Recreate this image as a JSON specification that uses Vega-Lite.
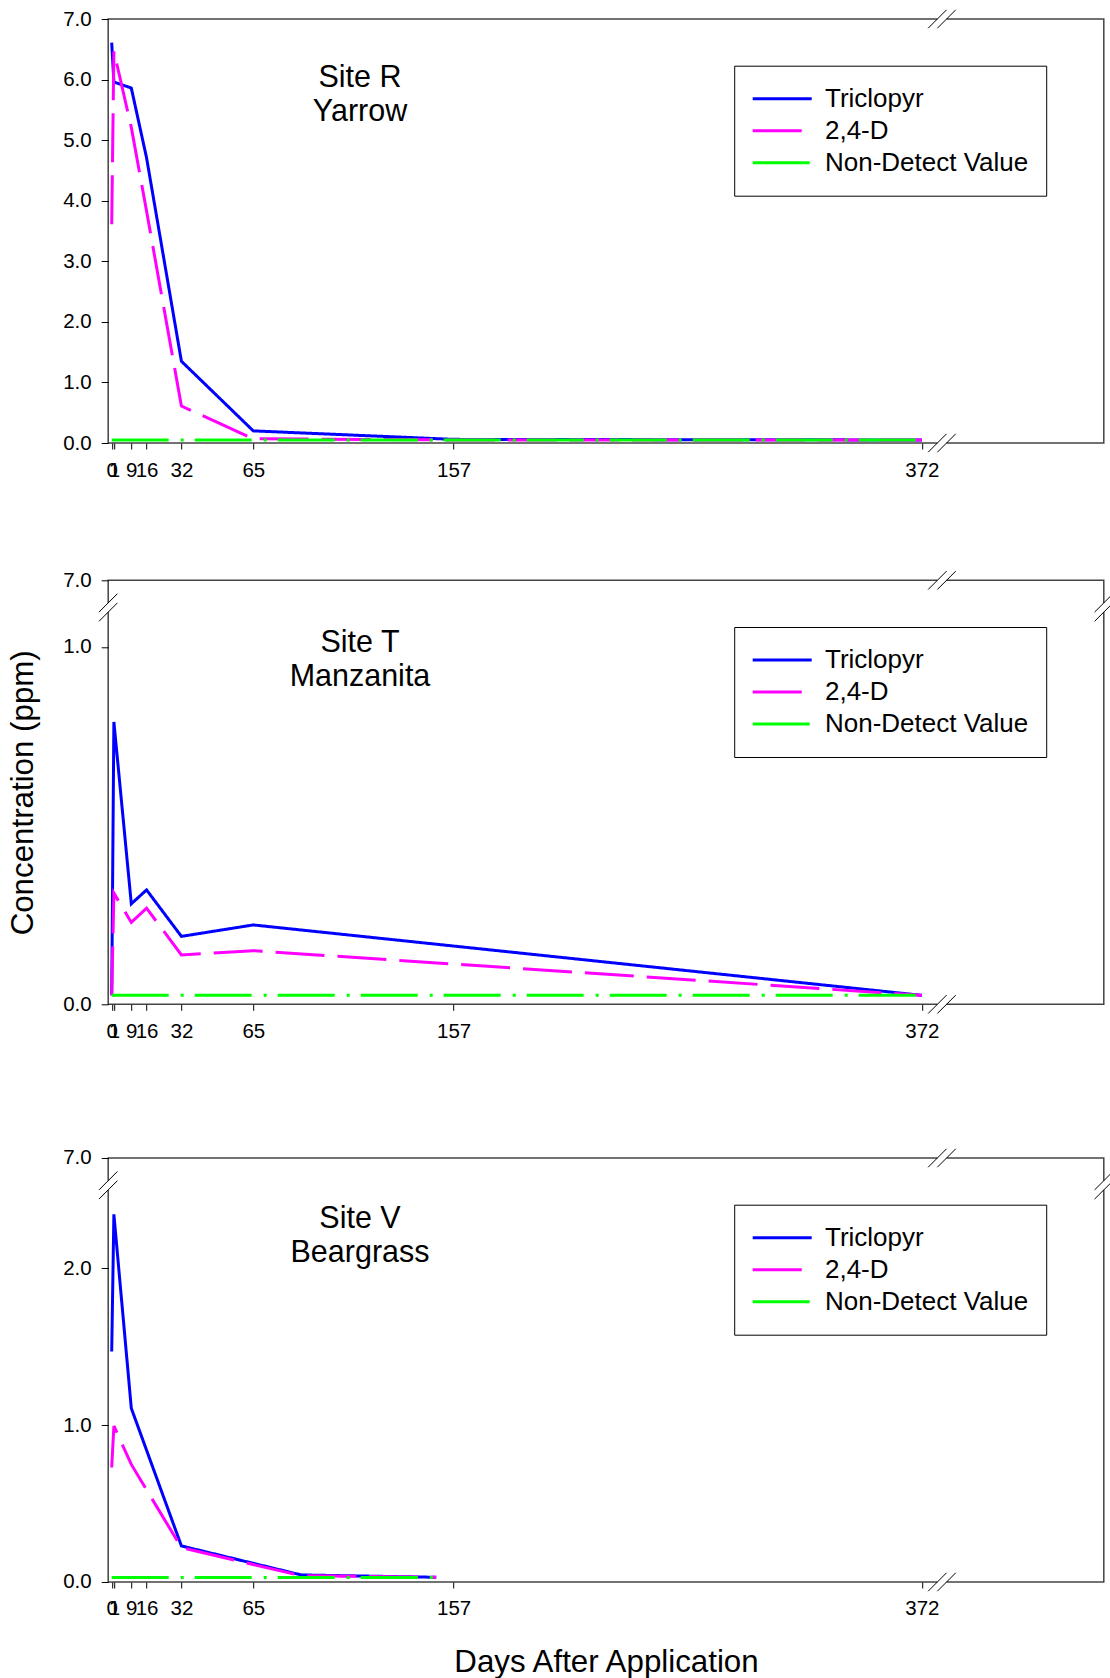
{
  "$schema": "https://vega.github.io/schema/vega-lite/v6.json",
  "padding": {"left": 6.2, "top": 7, "right": 0, "bottom": 0},
  "datasets": {
    "conc": [
      {"site": "R", "series": "Triclopyr", "day": 0, "conc": 6.61},
      {"site": "R", "series": "Triclopyr", "day": 1, "conc": 5.96},
      {"site": "R", "series": "Triclopyr", "day": 9, "conc": 5.86},
      {"site": "R", "series": "Triclopyr", "day": 16, "conc": 4.71},
      {"site": "R", "series": "Triclopyr", "day": 32, "conc": 1.35},
      {"site": "R", "series": "Triclopyr", "day": 65, "conc": 0.2},
      {"site": "R", "series": "Triclopyr", "day": 157, "conc": 0.06},
      {"site": "R", "series": "Triclopyr", "day": 372, "conc": 0.05},
      {"site": "R", "series": "2,4-D", "day": 0, "conc": 3.61},
      {"site": "R", "series": "2,4-D", "day": 1, "conc": 6.47},
      {"site": "R", "series": "2,4-D", "day": 9, "conc": 5.21},
      {"site": "R", "series": "2,4-D", "day": 16, "conc": 3.83},
      {"site": "R", "series": "2,4-D", "day": 32, "conc": 0.61},
      {"site": "R", "series": "2,4-D", "day": 65, "conc": 0.07},
      {"site": "R", "series": "2,4-D", "day": 157, "conc": 0.05},
      {"site": "R", "series": "2,4-D", "day": 372, "conc": 0.05},
      {"site": "R", "series": "Non-Detect Value", "day": 0, "conc": 0.05},
      {"site": "R", "series": "Non-Detect Value", "day": 372, "conc": 0.05},
      {"site": "T", "series": "Triclopyr", "day": 0, "conc": 0.025},
      {"site": "T", "series": "Triclopyr", "day": 1, "conc": 0.79},
      {"site": "T", "series": "Triclopyr", "day": 9, "conc": 0.281},
      {"site": "T", "series": "Triclopyr", "day": 16, "conc": 0.32},
      {"site": "T", "series": "Triclopyr", "day": 32, "conc": 0.19},
      {"site": "T", "series": "Triclopyr", "day": 65, "conc": 0.222},
      {"site": "T", "series": "Triclopyr", "day": 372, "conc": 0.025},
      {"site": "T", "series": "2,4-D", "day": 0, "conc": 0.025},
      {"site": "T", "series": "2,4-D", "day": 1, "conc": 0.311},
      {"site": "T", "series": "2,4-D", "day": 9, "conc": 0.229},
      {"site": "T", "series": "2,4-D", "day": 16, "conc": 0.269},
      {"site": "T", "series": "2,4-D", "day": 32, "conc": 0.138},
      {"site": "T", "series": "2,4-D", "day": 65, "conc": 0.15},
      {"site": "T", "series": "2,4-D", "day": 372, "conc": 0.025},
      {"site": "T", "series": "Non-Detect Value", "day": 0, "conc": 0.025},
      {"site": "T", "series": "Non-Detect Value", "day": 372, "conc": 0.025},
      {"site": "V", "series": "Triclopyr", "day": 0, "conc": 1.47},
      {"site": "V", "series": "Triclopyr", "day": 1, "conc": 2.345},
      {"site": "V", "series": "Triclopyr", "day": 9, "conc": 1.108},
      {"site": "V", "series": "Triclopyr", "day": 32, "conc": 0.23},
      {"site": "V", "series": "Triclopyr", "day": 87, "conc": 0.045},
      {"site": "V", "series": "Triclopyr", "day": 149, "conc": 0.03},
      {"site": "V", "series": "2,4-D", "day": 0, "conc": 0.73},
      {"site": "V", "series": "2,4-D", "day": 1, "conc": 0.995},
      {"site": "V", "series": "2,4-D", "day": 9, "conc": 0.75},
      {"site": "V", "series": "2,4-D", "day": 32, "conc": 0.219},
      {"site": "V", "series": "2,4-D", "day": 87, "conc": 0.04},
      {"site": "V", "series": "2,4-D", "day": 149, "conc": 0.03},
      {"site": "V", "series": "Non-Detect Value", "day": 0, "conc": 0.028},
      {"site": "V", "series": "Non-Detect Value", "day": 149, "conc": 0.028}
    ]
  },
  "vconcat": [
    {
      "spacing": 86.3,
      "resolve": {"scale": {"color": "independent", "strokeDash": "independent"}, "legend": {"color": "independent", "strokeDash": "independent"}},
      "vconcat": [
        {
          "width": 995.6, "height": 424,
          "layer": [
            {
              "data": {"name": "conc"},
              "encoding": {
                "x": {"field": "day", "type": "quantitative", "scale": {"domain": [-1.61, 455.5], "nice": false, "zero": false},
                      "axis": {"values": [0, 1, 9, 16, 32, 65, 157, 372], "format": "d", "title": null, "labelOverlap": false, "labelFlush": false, "tickSize": 6, "labelPadding": 11}},
                "y": {"field": "conc", "type": "quantitative", "scale": {"domain": [0, 7], "nice": false, "zero": false},
                      "axis": {"values": [0, 1, 2, 3, 4, 5, 6, 7], "format": ".1f", "title": null, "tickSize": 7, "labelPadding": 10}},
                "color": {"field": "series", "type": "nominal", "scale": {"domain": ["Triclopyr", "2,4-D", "Non-Detect Value"], "range": ["#0000FF", "#FF00FF", "#00FF00"]},
                          "legend": {"orient": "none", "legendX": 626, "legendY": 46.7, "title": null, "symbolType": "stroke", "symbolSize": 3481, "symbolStrokeWidth": 3, "clipHeight": 32, "labelFontSize": 26, "labelFont": "Liberation Sans", "labelColor": "#000", "labelOffset": 11.8, "padding": 17, "strokeColor": "#000", "fillColor": "#fff", "rowPadding": 0, "labelLimit": 400}},
                "strokeDash": {"field": "series", "type": "nominal", "scale": {"domain": ["Triclopyr", "2,4-D", "Non-Detect Value"], "range": [[1, 0], [49, 13], [57, 12, 3, 11]]},
                          "legend": {"orient": "none", "legendX": 626, "legendY": 46.7, "title": null, "symbolType": "stroke", "symbolSize": 3481, "symbolStrokeWidth": 3, "clipHeight": 32, "labelFontSize": 26, "labelFont": "Liberation Sans", "labelColor": "#000", "labelOffset": 11.8, "padding": 17, "strokeColor": "#000", "fillColor": "#fff", "rowPadding": 0, "labelLimit": 400}}
              },
              "layer": [
                {"transform": [{"filter": "datum.site === 'R' && datum.series === 'Triclopyr'"}], "mark": {"type": "line", "strokeWidth": 3}},
                {"transform": [{"filter": "datum.site === 'R' && datum.series === '2,4-D'"}], "mark": {"type": "line", "strokeWidth": 3}},
                {"transform": [{"filter": "datum.site === 'R' && datum.series === 'Non-Detect Value'"}], "mark": {"type": "line", "strokeWidth": 3}}
              ]
            },
            {"data": {"values": [{}]}, "mark": {"type": "text", "fontSize": 30.5, "lineHeight": 34, "align": "center", "baseline": "alphabetic", "font": "Liberation Sans", "color": "#000"},
             "encoding": {"x": {"datum": 114}, "y": {"datum": 5.875}, "text": {"value": ["Site R", "Yarrow"]}}},
            {"data": {"values": [{}]}, "mark": {"type": "point", "shape": "M-0.333,0L0.333,0", "size": 761.8, "filled": false, "color": "#fff", "strokeWidth": 3, "opacity": 1},
             "encoding": {"x": {"datum": 381.2}, "y": {"datum": 0}}},
            {"data": {"values": [{}]}, "mark": {"type": "point", "shape": "M-1,0.667L0.333,-0.667M-0.333,0.667L1,-0.667", "size": 761.8, "filled": false, "color": "#000", "strokeWidth": 1, "opacity": 1},
             "encoding": {"x": {"datum": 381.2}, "y": {"datum": 0}}},
            {"data": {"values": [{}]}, "mark": {"type": "point", "shape": "M-0.333,0L0.333,0", "size": 761.8, "filled": false, "color": "#fff", "strokeWidth": 3, "opacity": 1},
             "encoding": {"x": {"datum": 381.2}, "y": {"datum": 7}}},
            {"data": {"values": [{}]}, "mark": {"type": "point", "shape": "M-1,0.667L0.333,-0.667M-0.333,0.667L1,-0.667", "size": 761.8, "filled": false, "color": "#000", "strokeWidth": 1, "opacity": 1},
             "encoding": {"x": {"datum": 381.2}, "y": {"datum": 7}}}
          ]
        },
        {
          "width": 995.6, "height": 424,
          "layer": [
            {
              "data": {"name": "conc"},
              "encoding": {
                "x": {"field": "day", "type": "quantitative", "scale": {"domain": [-1.61, 455.5], "nice": false, "zero": false},
                      "axis": {"values": [0, 1, 9, 16, 32, 65, 157, 372], "format": "d", "title": null, "labelOverlap": false, "labelFlush": false, "tickSize": 6, "labelPadding": 11}},
                "y": {"field": "conc", "type": "quantitative", "scale": {"domain": [0, 1.11, 7], "range": [424, 27.2, 0], "nice": false, "zero": false},
                      "axis": {"values": [0, 1, 7], "format": ".1f", "title": "Concentration (ppm)", "titlePadding": 23.5, "tickSize": 7, "labelPadding": 10}},
                "color": {"field": "series", "type": "nominal", "scale": {"domain": ["Triclopyr", "2,4-D", "Non-Detect Value"], "range": ["#0000FF", "#FF00FF", "#00FF00"]},
                          "legend": {"orient": "none", "legendX": 626, "legendY": 46.7, "title": null, "symbolType": "stroke", "symbolSize": 3481, "symbolStrokeWidth": 3, "clipHeight": 32, "labelFontSize": 26, "labelFont": "Liberation Sans", "labelColor": "#000", "labelOffset": 11.8, "padding": 17, "strokeColor": "#000", "fillColor": "#fff", "rowPadding": 0, "labelLimit": 400}},
                "strokeDash": {"field": "series", "type": "nominal", "scale": {"domain": ["Triclopyr", "2,4-D", "Non-Detect Value"], "range": [[1, 0], [49, 13], [57, 12, 3, 11]]},
                          "legend": {"orient": "none", "legendX": 626, "legendY": 46.7, "title": null, "symbolType": "stroke", "symbolSize": 3481, "symbolStrokeWidth": 3, "clipHeight": 32, "labelFontSize": 26, "labelFont": "Liberation Sans", "labelColor": "#000", "labelOffset": 11.8, "padding": 17, "strokeColor": "#000", "fillColor": "#fff", "rowPadding": 0, "labelLimit": 400}}
              },
              "layer": [
                {"transform": [{"filter": "datum.site === 'T' && datum.series === 'Triclopyr'"}], "mark": {"type": "line", "strokeWidth": 3}},
                {"transform": [{"filter": "datum.site === 'T' && datum.series === '2,4-D'"}], "mark": {"type": "line", "strokeWidth": 3}},
                {"transform": [{"filter": "datum.site === 'T' && datum.series === 'Non-Detect Value'"}], "mark": {"type": "line", "strokeWidth": 3}}
              ]
            },
            {"data": {"values": [{}]}, "mark": {"type": "text", "fontSize": 30.5, "lineHeight": 34, "align": "center", "baseline": "alphabetic", "font": "Liberation Sans", "color": "#000"},
             "encoding": {"x": {"datum": 114}, "y": {"datum": 0.985}, "text": {"value": ["Site T", "Manzanita"]}}},
            {"data": {"values": [{}]}, "mark": {"type": "point", "shape": "M-0.333,0L0.333,0", "size": 761.8, "filled": false, "color": "#fff", "strokeWidth": 3, "opacity": 1},
             "encoding": {"x": {"datum": 381.2}, "y": {"datum": 0}}},
            {"data": {"values": [{}]}, "mark": {"type": "point", "shape": "M-1,0.667L0.333,-0.667M-0.333,0.667L1,-0.667", "size": 761.8, "filled": false, "color": "#000", "strokeWidth": 1, "opacity": 1},
             "encoding": {"x": {"datum": 381.2}, "y": {"datum": 0}}},
            {"data": {"values": [{}]}, "mark": {"type": "point", "shape": "M-0.333,0L0.333,0", "size": 761.8, "filled": false, "color": "#fff", "strokeWidth": 3, "opacity": 1},
             "encoding": {"x": {"datum": 381.2}, "y": {"datum": 7}}},
            {"data": {"values": [{}]}, "mark": {"type": "point", "shape": "M-1,0.667L0.333,-0.667M-0.333,0.667L1,-0.667", "size": 761.8, "filled": false, "color": "#000", "strokeWidth": 1, "opacity": 1},
             "encoding": {"x": {"datum": 381.2}, "y": {"datum": 7}}},
            {"data": {"values": [{}]}, "mark": {"type": "point", "shape": "M0,-0.333L0,0.333", "size": 761.8, "filled": false, "color": "#fff", "strokeWidth": 3, "opacity": 1},
             "encoding": {"x": {"datum": -1.61}, "y": {"datum": 1.11}}},
            {"data": {"values": [{}]}, "mark": {"type": "point", "shape": "M-0.667,0.333L0.667,-1M-0.667,1L0.667,-0.333", "size": 761.8, "filled": false, "color": "#000", "strokeWidth": 1, "opacity": 1},
             "encoding": {"x": {"datum": -1.61}, "y": {"datum": 1.11}}},
            {"data": {"values": [{}]}, "mark": {"type": "point", "shape": "M0,-0.333L0,0.333", "size": 761.8, "filled": false, "color": "#fff", "strokeWidth": 3, "opacity": 1},
             "encoding": {"x": {"datum": 455.5}, "y": {"datum": 1.11}}},
            {"data": {"values": [{}]}, "mark": {"type": "point", "shape": "M-0.667,0.333L0.667,-1M-0.667,1L0.667,-0.333", "size": 761.8, "filled": false, "color": "#000", "strokeWidth": 1, "opacity": 1},
             "encoding": {"x": {"datum": 455.5}, "y": {"datum": 1.11}}}
          ]
        }
      ]
    },
    {
      "width": 995.6, "height": 424,
      "layer": [
        {
          "data": {"name": "conc"},
          "encoding": {
            "x": {"field": "day", "type": "quantitative", "scale": {"domain": [-1.61, 455.5], "nice": false, "zero": false},
                  "axis": {"values": [0, 1, 9, 16, 32, 65, 157, 372], "format": "d", "title": "Days After Application", "titlePadding": 27.3, "labelOverlap": false, "labelFlush": false, "tickSize": 6, "labelPadding": 11}},
            "y": {"field": "conc", "type": "quantitative", "scale": {"domain": [0, 2.53, 7], "range": [424, 27.3, 0], "nice": false, "zero": false},
                  "axis": {"values": [0, 1, 2, 7], "format": ".1f", "title": null, "tickSize": 7, "labelPadding": 10}},
            "color": {"field": "series", "type": "nominal", "scale": {"domain": ["Triclopyr", "2,4-D", "Non-Detect Value"], "range": ["#0000FF", "#FF00FF", "#00FF00"]},
                      "legend": {"orient": "none", "legendX": 626, "legendY": 46.7, "title": null, "symbolType": "stroke", "symbolSize": 3481, "symbolStrokeWidth": 3, "clipHeight": 32, "labelFontSize": 26, "labelFont": "Liberation Sans", "labelColor": "#000", "labelOffset": 11.8, "padding": 17, "strokeColor": "#000", "fillColor": "#fff", "rowPadding": 0, "labelLimit": 400}},
            "strokeDash": {"field": "series", "type": "nominal", "scale": {"domain": ["Triclopyr", "2,4-D", "Non-Detect Value"], "range": [[1, 0], [49, 13], [57, 12, 3, 11]]},
                      "legend": {"orient": "none", "legendX": 626, "legendY": 46.7, "title": null, "symbolType": "stroke", "symbolSize": 3481, "symbolStrokeWidth": 3, "clipHeight": 32, "labelFontSize": 26, "labelFont": "Liberation Sans", "labelColor": "#000", "labelOffset": 11.8, "padding": 17, "strokeColor": "#000", "fillColor": "#fff", "rowPadding": 0, "labelLimit": 400}}
          },
          "layer": [
            {"transform": [{"filter": "datum.site === 'V' && datum.series === 'Triclopyr'"}], "mark": {"type": "line", "strokeWidth": 3}},
            {"transform": [{"filter": "datum.site === 'V' && datum.series === '2,4-D'"}], "mark": {"type": "line", "strokeWidth": 3}},
            {"transform": [{"filter": "datum.site === 'V' && datum.series === 'Non-Detect Value'"}], "mark": {"type": "line", "strokeWidth": 3}}
          ]
        },
        {"data": {"values": [{}]}, "mark": {"type": "text", "fontSize": 30.5, "lineHeight": 34, "align": "center", "baseline": "alphabetic", "font": "Liberation Sans", "color": "#000"},
         "encoding": {"x": {"datum": 114}, "y": {"datum": 2.255}, "text": {"value": ["Site V", "Beargrass"]}}},
        {"data": {"values": [{}]}, "mark": {"type": "point", "shape": "M-0.333,0L0.333,0", "size": 761.8, "filled": false, "color": "#fff", "strokeWidth": 3, "opacity": 1},
         "encoding": {"x": {"datum": 381.2}, "y": {"datum": 0}}},
        {"data": {"values": [{}]}, "mark": {"type": "point", "shape": "M-1,0.667L0.333,-0.667M-0.333,0.667L1,-0.667", "size": 761.8, "filled": false, "color": "#000", "strokeWidth": 1, "opacity": 1},
         "encoding": {"x": {"datum": 381.2}, "y": {"datum": 0}}},
        {"data": {"values": [{}]}, "mark": {"type": "point", "shape": "M-0.333,0L0.333,0", "size": 761.8, "filled": false, "color": "#fff", "strokeWidth": 3, "opacity": 1},
         "encoding": {"x": {"datum": 381.2}, "y": {"datum": 7}}},
        {"data": {"values": [{}]}, "mark": {"type": "point", "shape": "M-1,0.667L0.333,-0.667M-0.333,0.667L1,-0.667", "size": 761.8, "filled": false, "color": "#000", "strokeWidth": 1, "opacity": 1},
         "encoding": {"x": {"datum": 381.2}, "y": {"datum": 7}}},
        {"data": {"values": [{}]}, "mark": {"type": "point", "shape": "M0,-0.333L0,0.333", "size": 761.8, "filled": false, "color": "#fff", "strokeWidth": 3, "opacity": 1},
         "encoding": {"x": {"datum": -1.61}, "y": {"datum": 2.53}}},
        {"data": {"values": [{}]}, "mark": {"type": "point", "shape": "M-0.667,0.333L0.667,-1M-0.667,1L0.667,-0.333", "size": 761.8, "filled": false, "color": "#000", "strokeWidth": 1, "opacity": 1},
         "encoding": {"x": {"datum": -1.61}, "y": {"datum": 2.53}}},
        {"data": {"values": [{}]}, "mark": {"type": "point", "shape": "M0,-0.333L0,0.333", "size": 761.8, "filled": false, "color": "#fff", "strokeWidth": 3, "opacity": 1},
         "encoding": {"x": {"datum": 455.5}, "y": {"datum": 2.53}}},
        {"data": {"values": [{}]}, "mark": {"type": "point", "shape": "M-0.667,0.333L0.667,-1M-0.667,1L0.667,-0.333", "size": 761.8, "filled": false, "color": "#000", "strokeWidth": 1, "opacity": 1},
         "encoding": {"x": {"datum": 455.5}, "y": {"datum": 2.53}}}
      ]
    }
  ],
  "spacing": 103,
  "resolve": {"scale": {"color": "independent", "strokeDash": "independent"}, "legend": {"color": "independent", "strokeDash": "independent"}},
  "config": {
    "font": "Liberation Sans",
    "view": {"stroke": "#444", "strokeWidth": 1.5},
    "axis": {"labelFont": "Liberation Sans", "labelFontSize": 20.5, "labelColor": "#000", "tickColor": "#000", "tickWidth": 1, "domain": false, "grid": false,
             "titleFont": "Liberation Sans", "titleFontSize": 31.3, "titleFontWeight": "normal", "titleColor": "#000"}
  }
}
